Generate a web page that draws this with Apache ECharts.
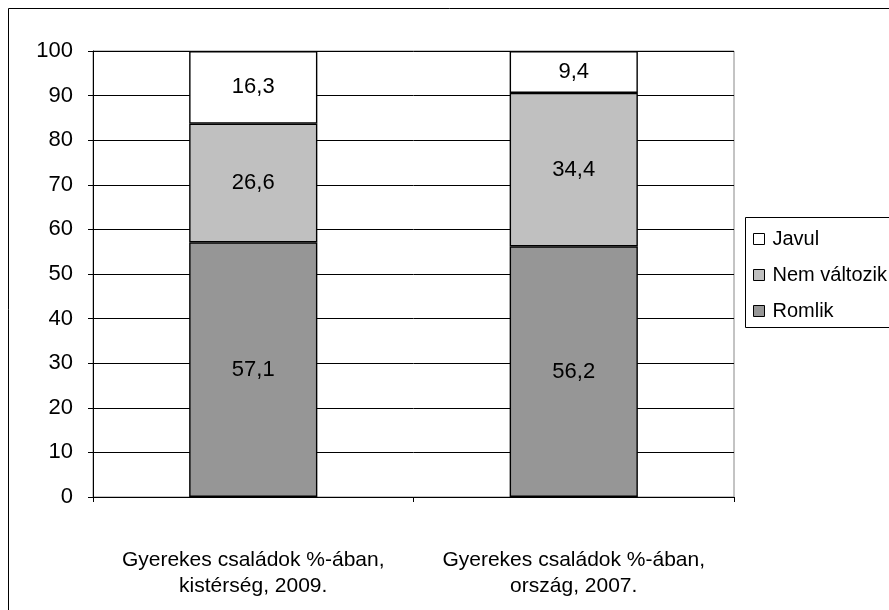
<!DOCTYPE html>
<html>
<head>
<meta charset="utf-8">
<script src="https://cdn.jsdelivr.net/npm/echarts@6/dist/echarts.min.js"></script>
<style>
  html, body { margin: 0; padding: 0; background: #fff; }
  #chart { width: 889px; height: 610px; }
</style>
</head>
<body>
<div id="chart"></div>
<script>
const categories = ['Gyerekes családok %-ában,\nkistérség, 2009.', 'Gyerekes családok %-ában,\nország, 2007.']
const romlik = [57.1, 56.2]
const nemValtozik = [26.6, 34.4]
const javul = [16.3, 9.4]
const yTicks = { min: 0, max: 100, step: 10 }

const font = '"Liberation Sans", Arial, sans-serif'
const chart = echarts.init(document.getElementById('chart'))

const fmt = p => String(p.value).replace('.', ',')

const makeSeries = (name, data, color) => ({
  name,
  type: 'bar',
  stack: 'total',
  data,
  barWidth: '40%',
  itemStyle: { color, borderColor: '#000', borderWidth: 1.4 },
  label: {
    show: true,
    position: 'inside',
    formatter: fmt,
    color: '#000',
    fontSize: 22,
    fontFamily: font,
  },
  emphasis: { disabled: true },
})

chart.setOption({
  animation: false,
  graphic: [
    {
      type: 'rect',
      shape: { x: 8.5, y: 8.5, width: 1000, height: 1000 },
      style: { fill: 'none', stroke: '#000', lineWidth: 1 },
      z: -1,
    },
    {
      type: 'rect',
      shape: { x: 745.5, y: 217.5, width: 300, height: 110 },
      style: { fill: '#fff', stroke: '#000', lineWidth: 1 },
      z: -1,
    },
  ],
  grid: {
    left: 93,
    top: 51,
    right: 155,
    bottom: 113,
    show: true,
    borderColor: '#888',
    borderWidth: 1,
  },
  legend: {
    orient: 'vertical',
    left: 748,
    top: 223,
    itemWidth: 11,
    itemHeight: 11,
    itemGap: 14,
    icon: 'rect',
    data: [
      { name: 'Javul', itemStyle: { borderColor: '#000', borderWidth: 1 } },
      { name: 'Nem változik', itemStyle: { borderColor: '#000', borderWidth: 1 } },
      { name: 'Romlik', itemStyle: { borderColor: '#000', borderWidth: 1 } },
    ],
    textStyle: { fontSize: 20, lineHeight: 22, fontFamily: font, color: '#000', padding: [0, 0, 0, 3] },
  },
  xAxis: {
    type: 'category',
    data: categories,
    axisLine: { lineStyle: { color: '#000', width: 1 } },
    axisTick: { show: true, length: 5, lineStyle: { color: '#000' } },
    axisLabel: {
      margin: 50,
      fontSize: 21,
      lineHeight: 26,
      fontFamily: font,
      color: '#000',
      interval: 0,
    },
  },
  yAxis: {
    type: 'value',
    min: yTicks.min,
    max: yTicks.max,
    interval: yTicks.step,
    axisLine: { show: true, lineStyle: { color: '#000', width: 1 } },
    axisTick: { show: true, length: 5, lineStyle: { color: '#000' } },
    axisLabel: { margin: 20, fontSize: 22, fontFamily: font, color: '#000' },
    splitLine: { lineStyle: { color: '#000', width: 1 } },
  },
  series: [
    makeSeries('Romlik', romlik, '#969696'),
    makeSeries('Nem változik', nemValtozik, '#c0c0c0'),
    makeSeries('Javul', javul, '#ffffff'),
  ],
})
</script>
</body>
</html>
